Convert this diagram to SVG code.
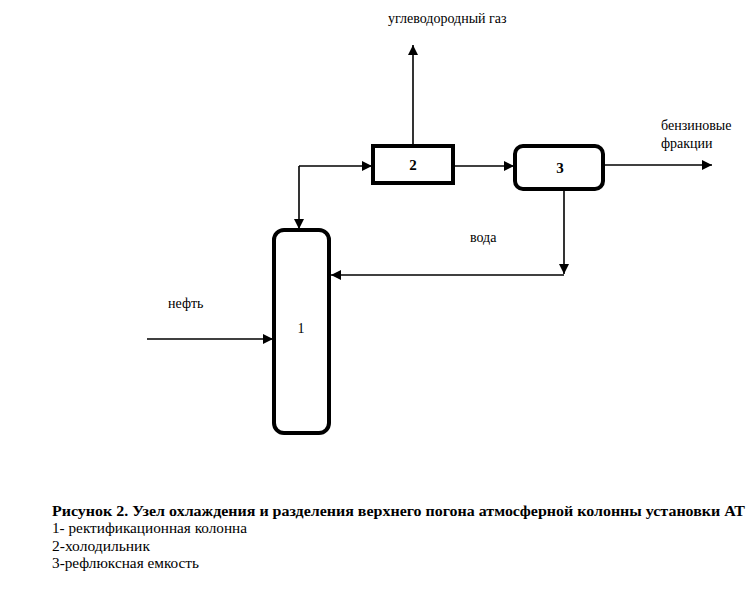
<svg xmlns="http://www.w3.org/2000/svg" width="756" height="590" viewBox="0 0 756 590">
<defs>
<marker id="ah" viewBox="0 0 10 10" refX="10" refY="5" markerWidth="10" markerHeight="10" markerUnits="userSpaceOnUse" orient="auto">
<path d="M0,0 L10,5 L0,10 z" fill="#000"/>
</marker>
</defs>
<style>
.box{fill:#fff;stroke:#000;stroke-width:4}
.ln{fill:none;stroke:#000;stroke-width:1.6;marker-end:url(#ah)}
text{fill:#000}
.t{font-size:14px}
.b{font-size:15px;font-weight:bold}
</style>
<rect width="756" height="590" fill="#fff"/>
<g id="connectors">
<line class="ln" x1="413" y1="145" x2="413" y2="45"/>
<line class="ln" x1="453" y1="166" x2="514" y2="166"/>
<polyline class="ln" points="299,166 372,166"/>
<polyline class="ln" points="299,166 299,229"/>
<line class="ln" x1="603" y1="165" x2="712" y2="165"/>
<line class="ln" x1="564" y1="190" x2="564" y2="274"/>
<line class="ln" x1="564" y1="275" x2="331" y2="275"/>
<line class="ln" x1="147" y1="339" x2="273" y2="339"/>
</g>
<g font-family="Liberation Serif, DejaVu Serif, serif">
<g id="node1">
<rect class="box" x="274" y="230" width="55" height="203" rx="10"/>
<text class="t" x="301" y="333" text-anchor="middle">1</text>
</g>
<g id="node2">
<rect class="box" x="373" y="146" width="80" height="37"/>
<text class="b" x="413" y="170" text-anchor="middle">2</text>
</g>
<g id="node3">
<rect class="box" x="515" y="146" width="88" height="43" rx="8"/>
<text class="b" x="560" y="173" text-anchor="middle">3</text>
</g>
<g id="labels">
<text class="t" x="388" y="23">углеводородный газ</text>
<text class="t" x="661" y="130">бензиновые</text>
<text class="t" x="661" y="148">фракции</text>
<text class="t" x="470" y="242">вода</text>
<text class="t" x="168" y="308">нефть</text>
</g>
<g id="caption">
<text class="b" x="52" y="516" textLength="693" lengthAdjust="spacingAndGlyphs">Рисунок 2. Узел охлаждения и разделения верхнего погона атмосферной колонны установки АТ</text>
<text class="t" x="52" y="533" textLength="195" lengthAdjust="spacingAndGlyphs">1- ректификационная колонна</text>
<text class="t" x="52" y="551" textLength="98" lengthAdjust="spacingAndGlyphs">2-холодильник</text>
<text class="t" x="52" y="568" textLength="147" lengthAdjust="spacingAndGlyphs">3-рефлюксная емкость</text>
</g>
</g>
</svg>
